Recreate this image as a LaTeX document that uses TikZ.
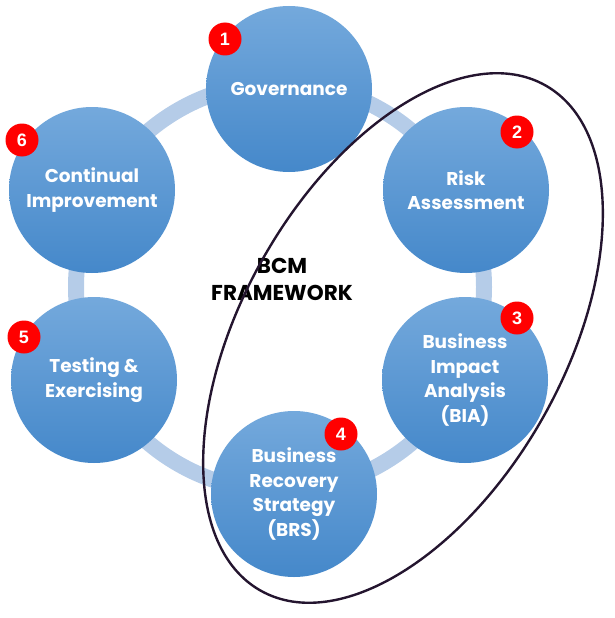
\documentclass[tikz,border=0pt]{standalone}
\usepackage{fontspec}
\setmainfont{Poppins}
\newfontfamily\badgefont{Liberation Sans}
\definecolor{stageTop}{HTML}{74A9DC}
\definecolor{stageBot}{HTML}{4588CA}
\definecolor{ringBlue}{HTML}{B5CCE8}
\definecolor{badgeRed}{HTML}{FF0000}
\definecolor{scopeInk}{HTML}{24152F}
\begin{document}
\begin{tikzpicture}[x=1pt,y=-1pt,
  stage/.style={circle, minimum size=166pt, inner sep=0pt,
    top color=stageTop, bottom color=stageBot, text=white, align=center,
    font=\bfseries\fontsize{18.5}{24.5}\selectfont},
  badge/.style={circle, fill=badgeRed, minimum size=33pt, inner sep=0pt,
    text=white, font=\badgefont\bfseries\fontsize{18}{18}\selectfont},
  ring/.style={draw=ringBlue, line width=16pt},
  scopeline/.style={draw=scopeInk, line width=2.4pt},
  title/.style={align=center, text=black,
    font=\bfseries\fontsize{21.5}{27}\selectfont}]
\useasboundingbox (0,0) rectangle (614,618);

% cycle ring behind the stages
\coordinate (hub) at (280,287);
\draw[ring] (hub) circle [radius=204];

% the six stages
\node[stage] (gov)  at (289,89)  {Governance};
\node[stage] (risk) at (466,190) {Risk\\Assessment};
\node[stage] (bia)  at (465,380) {Business\\Impact\\Analysis\\(BIA)};
\node[stage] (brs)  at (294,494) {Business\\Recovery\\Strategy\\(BRS)};
\node[stage] (test) at (94,380)  {Testing \&\\Exercising};
\node[stage] (cont) at (92,190)  {Continual\\Improvement};

% step numbers
\node[badge] (n1) at (225,39)  {1};
\node[badge] (n2) at (517,132) {2};
\node[badge] (n3) at (517,318) {3};
\node[badge] (n4) at (341,434) {4};
\node[badge] (n5) at (24,337)  {5};
\node[badge] (n6) at (22,140)  {6};

% centre title
\node[title] (bcm) at (282,279) {BCM\\FRAMEWORK};

% outline grouping stages 2 to 4
\coordinate (grp) at (403,338);
\draw[scopeline] (grp) ellipse [x radius=290, y radius=161, rotate=60.6];
\end{tikzpicture}
\end{document}
